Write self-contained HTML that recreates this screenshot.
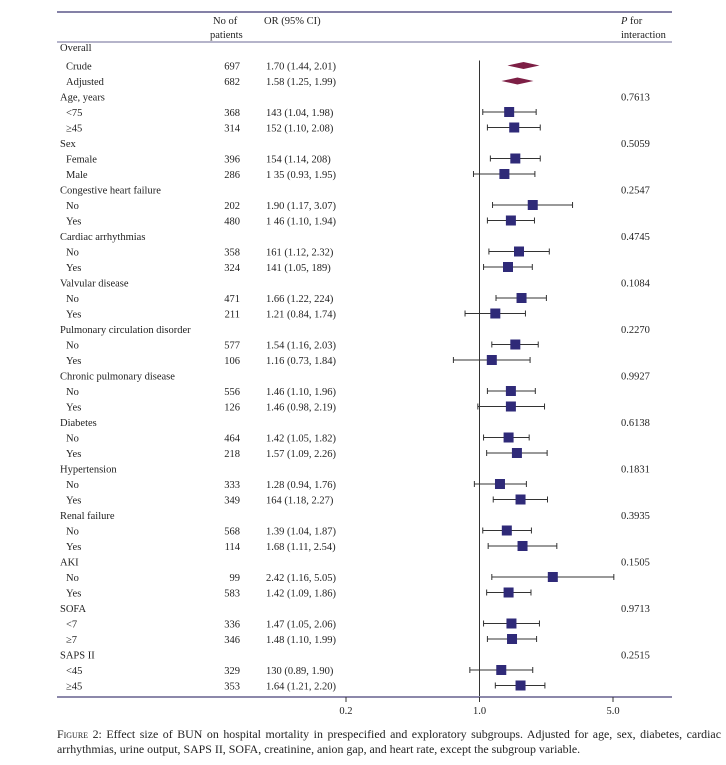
<!DOCTYPE html>
<html><head><meta charset="utf-8">
<style>
body{margin:0;background:#fff;width:726px;height:765px;overflow:hidden;font-family:"Liberation Serif",serif;color:#222}
svg text{font-family:"Liberation Serif",serif;font-size:10.5px;fill:#222}
.cap{position:absolute;left:57px;top:711px;width:664px;font-size:11.9px;line-height:15px;text-align:justify;color:#222}
</style></head><body>
<svg id="chart" width="726" height="765" style="position:absolute;left:0;top:0">
<line x1="57" y1="12" x2="672" y2="12" stroke="#3a3670" stroke-width="1.2"/>
<line x1="57" y1="42" x2="672" y2="42" stroke="#3a3670" stroke-width="0.8"/>
<text x="213" y="24">No of</text>
<text x="210" y="38">patients</text>
<text x="264" y="24">OR (95% CI)</text>
<text x="621" y="24"><tspan font-style="italic">P</tspan> for</text>
<text x="621" y="38">interaction</text>
<g id="rows"></g>
</svg>
<div class="cap"><span style="font-variant:small-caps">Figure 2</span>: Effect size of BUN on hospital mortality in prespecified and exploratory subgroups. Adjusted for age, sex, diabetes, cardiac arrhythmias, urine output, SAPS II, SOFA, creatinine, anion gap, and heart rate, except the subgroup variable.</div>
<script>
const labels=["Overall","Crude","Adjusted","Age, years","<75","≥45","Sex","Female","Male","Congestive heart failure","No","Yes","Cardiac arrhythmias","No","Yes","Valvular disease","No","Yes","Pulmonary circulation disorder","No","Yes","Chronic pulmonary disease","No","Yes","Diabetes","No","Yes","Hypertension","No","Yes","Renal failure","No","Yes","AKI","No","Yes","SOFA","<7","≥7","SAPS II","<45","≥45"];
const nPatients=[null,697,682,null,368,314,null,396,286,null,202,480,null,358,324,null,471,211,null,577,106,null,556,126,null,464,218,null,333,349,null,568,114,null,99,583,null,336,346,null,329,353];
const orText=[null,"1.70 (1.44, 2.01)","1.58 (1.25, 1.99)",null,"143 (1.04, 1.98)","152 (1.10, 2.08)",null,"154 (1.14, 208)","1 35 (0.93, 1.95)",null,"1.90 (1.17, 3.07)","1 46 (1.10, 1.94)",null,"161 (1.12, 2.32)","141 (1.05, 189)",null,"1.66 (1.22, 224)","1.21 (0.84, 1.74)",null,"1.54 (1.16, 2.03)","1.16 (0.73, 1.84)",null,"1.46 (1.10, 1.96)","1.46 (0.98, 2.19)",null,"1.42 (1.05, 1.82)","1.57 (1.09, 2.26)",null,"1.28 (0.94, 1.76)","164 (1.18, 2.27)",null,"1.39 (1.04, 1.87)","1.68 (1.11, 2.54)",null,"2.42 (1.16, 5.05)","1.42 (1.09, 1.86)",null,"1.47 (1.05, 2.06)","1.48 (1.10, 1.99)",null,"130 (0.89, 1.90)","1.64 (1.21, 2.20)"];
const orVal=[null,1.70,1.58,null,1.43,1.52,null,1.54,1.35,null,1.90,1.46,null,1.61,1.41,null,1.66,1.21,null,1.54,1.16,null,1.46,1.46,null,1.42,1.57,null,1.28,1.64,null,1.39,1.68,null,2.42,1.42,null,1.47,1.48,null,1.30,1.64];
const ciLow=[null,1.44,1.25,null,1.04,1.10,null,1.14,0.93,null,1.17,1.10,null,1.12,1.05,null,1.22,0.84,null,1.16,0.73,null,1.10,0.98,null,1.05,1.09,null,0.94,1.18,null,1.04,1.11,null,1.16,1.09,null,1.05,1.10,null,0.89,1.21];
const ciHigh=[null,2.01,1.99,null,1.98,2.08,null,2.08,1.95,null,3.07,1.94,null,2.32,1.89,null,2.24,1.74,null,2.03,1.84,null,1.96,2.19,null,1.82,2.26,null,1.76,2.27,null,1.87,2.54,null,5.05,1.86,null,2.06,1.99,null,1.90,2.20];
const pVal=[null,null,null,"0.7613",null,null,"0.5059",null,null,"0.2547",null,null,"0.4745",null,null,"0.1084",null,null,"0.2270",null,null,"0.9927",null,null,"0.6138",null,null,"0.1831",null,null,"0.3935",null,null,"0.1505",null,null,"0.9713",null,null,"0.2515",null,null];
const ticks=[0.2,1.0,5.0];
const tickLabels=["0.2","1.0","5.0"];
const NS="http://www.w3.org/2000/svg";
const g=document.getElementById('rows');
function X(v){return 479.5+191*Math.log10(v);}
function Y(i){return i===0?51:54+15.5*i;}
function mk(tag,at){const e=document.createElementNS(NS,tag);for(const k in at)e.setAttribute(k,at[k]);g.appendChild(e);return e;}
let v=mk('line',{x1:X(1),y1:Y(1)-9,x2:X(1),y2:697,stroke:'#333','stroke-width':1});


for(let i=0;i<labels.length;i++){
  const y=Y(i);
  const isHead=nPatients[i]===null;
  let t=mk('text',{x:isHead?60:66,y:y});t.textContent=labels[i];
  
  
  if(nPatients[i]!==null){
    let n=mk('text',{x:240,y:y,'text-anchor':'end'});n.textContent=nPatients[i];
    
    
    let o=mk('text',{x:266,y:y});o.textContent=orText[i];
    
    
  }
  if(pVal[i]){let p=mk('text',{x:621,y:y});p.textContent=pVal[i];
    
    }
  if(orVal[i]!==null){
    const cy=y-4,cx=X(orVal[i]);
    if(i<=2){
      let d=mk('polygon',{points:`${cx-16},${cy} ${cx},${cy-3.5} ${cx+16},${cy} ${cx},${cy+3.5}`,fill:'#7d1f45'});
      
      
    }else{
      const l=X(ciLow[i]),h=X(ciHigh[i]);
      let ln=mk('line',{x1:l,y1:cy,x2:h,y2:cy,stroke:'#333','stroke-width':1});
      
      
      mk('line',{x1:l,y1:cy-3,x2:l,y2:cy+3,stroke:'#333','stroke-width':1});
      mk('line',{x1:h,y1:cy-3,x2:h,y2:cy+3,stroke:'#333','stroke-width':1});
      let s=mk('rect',{x:cx-5,y:cy-5,width:10,height:10,fill:'#2f2a78'});
      
      
    }
  }
}
let ax=mk('line',{x1:57,y1:697,x2:672,y2:697,stroke:'#8c88aa','stroke-width':2});


ticks.forEach((tv,k)=>{
  mk('line',{x1:X(tv),y1:697,x2:X(tv),y2:702,stroke:'#333','stroke-width':1});
  let tl=mk('text',{x:X(tv),y:714,'text-anchor':'middle'});tl.textContent=tickLabels[k];
  
  
});
</script>
<style>.cap{top:727px}</style>
</body></html>
